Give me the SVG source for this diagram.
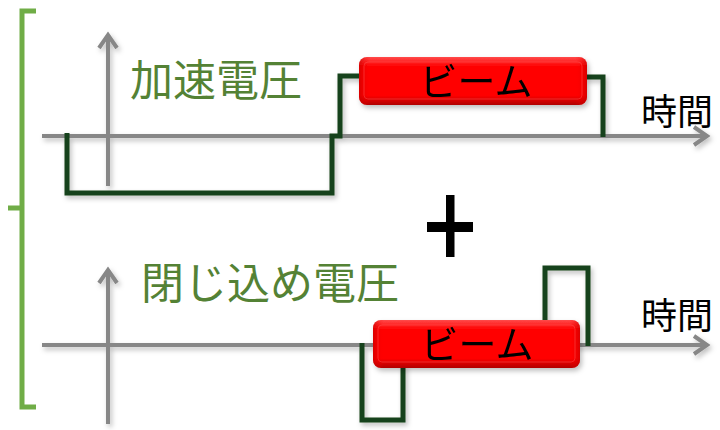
<svg xmlns="http://www.w3.org/2000/svg" width="720" height="430" viewBox="0 0 720 430">
<defs>
<filter id="sh" x="-10%" y="-10%" width="130%" height="140%">
<feDropShadow dx="2" dy="3" stdDeviation="2.5" flood-color="#000" flood-opacity="0.25"/>
</filter>
<linearGradient id="red" x1="0" y1="0" x2="0" y2="1">
<stop offset="0" stop-color="#ff4a4a"/>
<stop offset="0.2" stop-color="#ff0000"/>
<stop offset="0.8" stop-color="#ff0000"/>
<stop offset="1" stop-color="#b00000"/>
</linearGradient>
<linearGradient id="redside" x1="0" y1="0" x2="1" y2="0">
<stop offset="0" stop-color="#c00000" stop-opacity="0.6"/>
<stop offset="0.05" stop-color="#ff0000" stop-opacity="0"/>
<stop offset="0.95" stop-color="#ff0000" stop-opacity="0"/>
<stop offset="1" stop-color="#c00000" stop-opacity="0.6"/>
</linearGradient>
</defs>
<style>
.axis{fill:none;stroke:#878787;stroke-width:4;stroke-linecap:butt;stroke-linejoin:miter}
.wave{fill:none;stroke:#15431a;stroke-width:5;stroke-linejoin:miter}
.brk{fill:none;stroke:#70ad47;stroke-width:5}
.glabel{font-family:"Noto Sans CJK JP","Noto Sans",sans-serif;font-size:43px;fill:#548235}
.blabel{font-family:"Noto Sans CJK JP","Noto Sans",sans-serif;font-size:36px;fill:#000}
.beam{font-family:"Noto Sans CJK JP","Noto Sans",sans-serif;font-size:38px;fill:#000;text-anchor:middle}
</style>
<g id="bracket">
<path class="brk" d="M36,11 L22,11 L22,208 L8,208 M22,208 L22,407 L36,407"/>
</g>
<g id="connectors" filter="url(#sh)">
<path class="axis" d="M42,136 L706,136 M694,127 L707,136 L694,145"/>
<path class="axis" d="M108,186 L108,35 M99,48 L108,35 L117,48"/>
<path class="axis" d="M42,345 L706,345 M694,336 L707,345 L694,354"/>
<path class="axis" d="M108,424 L108,270 M99,283 L108,270 L117,283"/>
<path class="wave" d="M67,133 L67,193 L332,193 L332,136 L340,136 L340,76 L362,76 M585,77 L603,77 L603,137"/>
<path class="wave" d="M362,343 L362,420 L403,420 L403,365 M545,322 L545,268 L588,268 L588,346"/>
</g>
<g id="label-accel"><text class="glabel" x="130" y="96">加速電圧</text></g>
<g id="label-confine"><text class="glabel" x="141" y="299">閉じ込め電圧</text></g>
<g id="label-time1"><text class="blabel" x="641" y="125">時間</text></g>
<g id="label-time2"><text class="blabel" x="641" y="329">時間</text></g>
<g id="plus">
<rect x="446" y="195" width="8.5" height="62" fill="#000"/>
<rect x="427" y="222" width="46" height="10" fill="#000"/>
</g>
<g id="beam1" filter="url(#sh)">
<rect x="359" y="57" width="228" height="48" rx="8" fill="url(#red)"/>
<rect x="359" y="57" width="228" height="48" rx="8" fill="url(#redside)"/>
<rect x="364" y="62" width="218" height="37" rx="4" fill="none" stroke="#ff6060" stroke-opacity="0.4" stroke-width="1"/>
<text class="beam" x="476" y="95">ビーム</text>
</g>
<g id="beam2" filter="url(#sh)">
<rect x="373" y="320" width="207" height="48" rx="8" fill="url(#red)"/>
<rect x="373" y="320" width="207" height="48" rx="8" fill="url(#redside)"/>
<rect x="378" y="325" width="197" height="37" rx="4" fill="none" stroke="#ff6060" stroke-opacity="0.4" stroke-width="1"/>
<text class="beam" x="477" y="358">ビーム</text>
</g>
</svg>
